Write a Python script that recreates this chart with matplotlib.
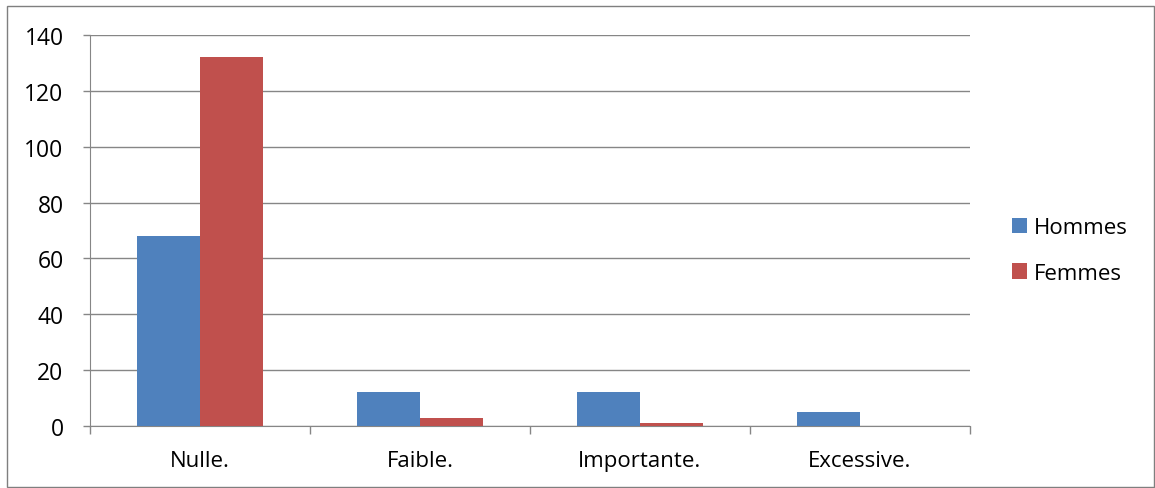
import numpy as np
import matplotlib.pyplot as plt
from matplotlib.patches import Rectangle

plt.rcParams['font.family'] = ['Open Sans', 'DejaVu Sans']

# Data
categories = ['Nulle.', 'Faible.', 'Importante.', 'Excessive.']
hommes = [68, 12, 12, 5]
femmes = [132, 3, 1, 0]

fig = plt.figure(figsize=(11.55, 4.89), dpi=100)
ax = fig.add_axes([0.0779, 0.1268, 0.7619, 0.7996])

x = np.arange(len(categories))
w = 1 / 3.5
ax.bar(x - w / 2, hommes, w, color='#4F81BD', label='Hommes', zorder=3)
ax.bar(x + w / 2, femmes, w, color='#C0504D', label='Femmes', zorder=3)

ax.set_xlim(-0.5, len(categories) - 0.5)
ax.set_ylim(0, 140)
ax.set_yticks(np.arange(0, 141, 20))
ax.yaxis.grid(True, color='#868686', linewidth=1, zorder=0)

# category boundary ticks
ax.set_xticks(np.arange(-0.5, len(categories)), minor=False)
ax.set_xticklabels([])
ax.set_xticks(x, minor=True)
ax.set_xticklabels(categories, minor=True)
ax.tick_params(axis='x', which='major', length=6, color='#868686', width=1)
ax.tick_params(axis='x', which='minor', length=0, pad=17, labelsize=16)
ax.tick_params(axis='y', length=5, color='#868686', width=1, labelsize=16.5, pad=14)

for s in ['top', 'right']:
    ax.spines[s].set_visible(False)
for s in ['left', 'bottom']:
    ax.spines[s].set_color('#868686')

ax.legend(loc='center left', bbox_to_anchor=(1.0, 0.449), frameon=False,
          fontsize=16, handlelength=0.68, handleheight=0.68,
          handletextpad=0.3, labelspacing=1.1, borderaxespad=1.5)

# outer chart frame
fig.patches.append(Rectangle((7 / 1155, 0.002), 1 - 8 / 1155, 1 - 7 / 489 - 0.002,
                             transform=fig.transFigure, fill=False,
                             edgecolor='#7f7f7f', linewidth=1))

fig.savefig('out.png', dpi=100)
